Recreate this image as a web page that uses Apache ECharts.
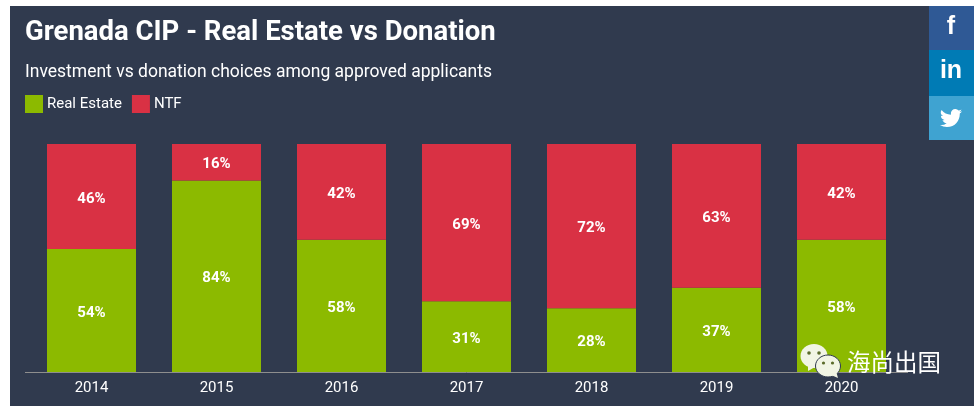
<!DOCTYPE html>
<html>
<head>
<meta charset="utf-8">
<title>Grenada CIP - Real Estate vs Donation</title>
<script src="https://cdn.jsdelivr.net/npm/echarts@6/dist/echarts.min.js"></script>
<style>
html, body { margin: 0; padding: 0; background: #fff; }
#chart { width: 974px; height: 406px; }
</style>
</head>
<body>
<div id="chart"></div>
<script>
var years = ['2014', '2015', '2016', '2017', '2018', '2019', '2020'];
var realEstate = [54, 84, 58, 31, 28, 37, 58];
var ntf = [46, 16, 42, 69, 72, 63, 42];

var panelColor = '#303a4e';
var font = 'Roboto';

function percentLabel() {
	return {
		show: true,
		position: 'inside',
		offset: [0, 2.5],
		formatter: '{c}%',
		color: '#fff',
		fontFamily: font,
		fontSize: 15,
		fontWeight: 'bold'
	};
}

// graphic组件没有path类型，注册一个
var twitterPath = 'M24 4.6a10 10 0 0 1-2.8.8 4.9 4.9 0 0 0 2.1-2.7 9.800 9.800 0 0 1-3.100 1.200 4.900 4.900 0 0 0-8.400 4.500A14 14 0 0 1 1.700 3.200a4.900 4.900 0 0 0 1.500 6.600 4.900 4.900 0 0 1-2.200-.6v.1a4.900 4.900 0 0 0 3.900 4.800 4.900 4.900 0 0 1-2.200.1 4.900 4.900 0 0 0 4.600 3.400A9.900 9.900 0 0 1 0 19.600a14 14 0 0 0 7.500 2.200c9.100 0 14-7.500 14-14v-.6A10 10 0 0 0 24 4.600z';
echarts.graphic.registerShape('twitterBird', echarts.graphic.extendPath(twitterPath, {}));

var myChart = echarts.init(document.getElementById('chart'), null, { renderer: 'canvas' });
var option = {
	animation: false,
	backgroundColor: '#fff',
	textStyle: { fontFamily: font },
	title: [
		{
			text: 'Grenada CIP - Real Estate vs Donation',
			left: 25, top: 19, padding: 0,
			textStyle: { color: '#fff', fontFamily: font, fontSize: 27.5, fontWeight: 'bold' }
		},
		{
			text: 'Investment vs donation choices among approved applicants',
			left: 25, top: 64, padding: 0,
			textStyle: { color: '#fff', fontFamily: font, fontSize: 17.5, fontWeight: 'normal' }
		}
	],
	legend: {
		left: 25, top: 95, padding: 0,
		itemWidth: 18, itemHeight: 18, itemGap: 10,
		icon: 'rect',
		textStyle: { color: '#fff', fontFamily: font, fontSize: 15, padding: [0, 0, 0, -1] },
		data: ['Real Estate', 'NTF']
	},
	grid: { left: 29, top: 144, width: 875, height: 228 },
	xAxis: {
		type: 'category',
		data: years,
		axisTick: { show: false },
		axisLine: { show: false },
		axisLabel: { color: '#fff', fontFamily: font, fontSize: 15, margin: 9 }
	},
	yAxis: { type: 'value', min: 0, max: 100, show: false },
	series: [
		{
			name: 'Real Estate', type: 'bar', stack: 'total', barWidth: 89,
			itemStyle: { color: '#8cba00' },
			label: percentLabel(),
			data: realEstate
		},
		{
			name: 'NTF', type: 'bar', stack: 'total', barWidth: 89,
			itemStyle: { color: '#d93144' },
			label: percentLabel(),
			data: ntf
		}
	],
	graphic: [
		{ type: 'rect', z: -10, silent: true, shape: { x: 10, y: 6, width: 964, height: 400 }, style: { fill: panelColor } },
		{ type: 'line', z: 10, silent: true, shape: { x1: 25, y1: 372.5, x2: 908, y2: 372.5 }, style: { stroke: '#8e8e8e', lineWidth: 1 } },

		{ type: 'rect', z: 20, shape: { x: 929, y: 6, width: 45, height: 44 }, style: { fill: '#2f5995' } },
		{ type: 'rect', z: 20, shape: { x: 929, y: 50, width: 45, height: 46 }, style: { fill: '#007bb5' } },
		{ type: 'rect', z: 20, shape: { x: 929, y: 96, width: 45, height: 44 }, style: { fill: '#3fa3d1' } },
		{ type: 'text', z: 21, x: 951, y: 27, style: { text: 'f', fill: '#fff', font: 'bold 25px "Liberation Sans"', align: 'center', verticalAlign: 'middle' } },
		{ type: 'text', z: 21, x: 951, y: 71, style: { text: 'in', fill: '#fff', font: 'bold 25px "Liberation Sans"', align: 'center', verticalAlign: 'middle' } },
		{ type: 'twitterBird', z: 21, x: 940, y: 107, scaleX: 0.92, scaleY: 0.92, style: { fill: '#fff' } },

		{ type: 'ellipse', z: 30, shape: { cx: 814, cy: 356, rx: 13.500, ry: 12 }, style: { fill: '#f1f5e4' } },
		{ type: 'polygon', z: 30, shape: { points: [[808, 365], [815, 367], [808, 371]] }, style: { fill: '#f1f5e4' } },
		{ type: 'circle', z: 31, shape: { cx: 809, cy: 353, r: 1.800 }, style: { fill: '#5a6b2a' } },
		{ type: 'circle', z: 31, shape: { cx: 819, cy: 353, r: 1.800 }, style: { fill: '#5a6b2a' } },
		{ type: 'ellipse', z: 32, shape: { cx: 828, cy: 366, rx: 12.500, ry: 11 }, style: { fill: '#f1f5e4', stroke: panelColor, lineWidth: 1 } },
		{ type: 'polygon', z: 32, shape: { points: [[831, 375], [838, 378], [836, 371]] }, style: { fill: '#f1f5e4' } },
		{ type: 'circle', z: 33, shape: { cx: 823.500, cy: 363, r: 1.600 }, style: { fill: '#5a6b2a' } },
		{ type: 'circle', z: 33, shape: { cx: 832.500, cy: 363, r: 1.600 }, style: { fill: '#5a6b2a' } },
		{ type: 'text', z: 30, x: 847, y: 362, style: { text: '海尚出国', fill: '#fff', font: '23.5px "Noto Sans CJK SC"', verticalAlign: 'middle' } }
	]
};
myChart.setOption(option);
window.onresize = myChart.resize;
</script>
</body>
</html>
